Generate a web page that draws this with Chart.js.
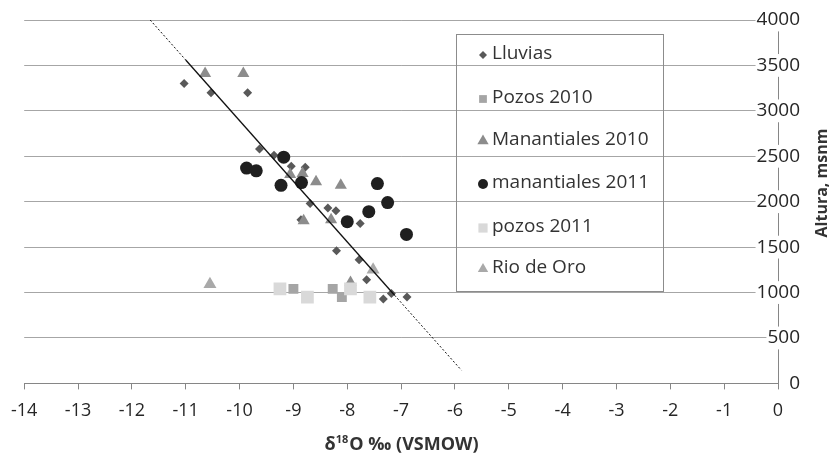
<!DOCTYPE html>
<html>
<head>
<meta charset="utf-8">
<script src="https://cdn.jsdelivr.net/npm/chart.js@4.4.1/dist/chart.umd.min.js"></script>
<style>
  html, body { margin: 0; padding: 0; background: #fff; }
</style>
</head>
<body>
<canvas id="myChart" width="833" height="459"></canvas>
<script>
// values (x = d18O permil, y = altura msnm)
const lluviasX = [-11.03, -10.53, -9.85, -9.63, -9.36, -9.04, -8.78, -8.69, -8.36, -8.21, -8.86, -7.76, -8.20, -7.78, -7.64, -7.33, -7.18, -6.89];
const lluviasY = [3300, 3200, 3200, 2580, 2510, 2390, 2380, 1980, 1930, 1900, 1800, 1760, 1460, 1360, 1140, 930, 990, 950];

const pozos2010X = [-9.0, -8.27, -8.10];
const pozos2010Y = [1040, 1040, 950];

const manant2010X = [-10.64, -9.93, -9.06, -8.83, -8.58, -8.12, -8.81, -8.30, -7.94];
const manant2010Y = [3410, 3410, 2300, 2310, 2220, 2180, 1790, 1800, 1110];

const manant2011X = [-9.87, -9.69, -9.18, -9.23, -8.85, -7.44, -7.25, -7.60, -8.0, -6.90];
const manant2011Y = [2370, 2340, 2490, 2180, 2210, 2200, 1990, 1890, 1780, 1640];

const pozos2011X = [-9.25, -8.74, -7.94, -7.58];
const pozos2011Y = [1040, 950, 1040, 950];

const rioX = [-10.55, -7.52];
const rioY = [1090, 1250];

// trend line ends (dotted - solid - dotted)
const trendX = [-11.66, -11.0, -7.12, -5.88];
const trendY = [4000, 3560, 970, 145];

const xTicks = [-14, -13, -12, -11, -10, -9, -8, -7, -6, -5, -4, -3, -2, -1, 0];
const yTicks = [0, 500, 1000, 1500, 2000, 2500, 3000, 3500, 4000];

const seriesNames = ['Lluvias', 'Pozos 2010', 'Manantiales 2010', 'manantiales 2011', 'pozos 2011', 'Rio de Oro'];

function pts(xs, ys) {
  return xs.map((x, i) => ({ x: x, y: ys[i] }));
}

function series(label, xs, ys, style, radius, color, order) {
  return {
    label: label,
    data: pts(xs, ys),
    pointStyle: style,
    pointRadius: radius,
    pointHoverRadius: radius,
    backgroundColor: color,
    borderColor: color,
    pointBorderWidth: 0,
    order: order
  };
}

const datasets = [
  series(seriesNames[0], lluviasX, lluviasY, 'rectRot', 4.5, '#595959', 6),
  series(seriesNames[1], pozos2010X, pozos2010Y, 'rect', 7, '#a5a5a5', 5),
  series(seriesNames[2], manant2010X, manant2010Y, 'triangle', 7, '#8c8c8c', 4),
  series(seriesNames[3], manant2011X, manant2011Y, 'circle', 6.5, '#1f1f1f', 3),
  series(seriesNames[4], pozos2011X, pozos2011Y, 'rect', 9, '#d9d9d9', 2),
  series(seriesNames[5], rioX, rioY, 'triangle', 7.5, '#a9a9a9', 1),
  {
    label: 'trend',
    data: pts(trendX, trendY),
    showLine: true,
    pointRadius: 0,
    borderColor: '#111',
    borderWidth: 1.3,
    segment: {
      borderDash: c => c.p0DataIndex === 1 ? [] : [2, 2],
      borderWidth: c => c.p0DataIndex === 1 ? 1.3 : 1
    },
    order: 0
  }
];

const legendSizes = [4, 5.5, 6.5, 5, 6.5, 6];

const extras = {
  id: 'extras',
  afterDraw(chart) {
    const ctx = chart.ctx;
    const area = chart.chartArea;
    ctx.save();

    // legend
    ctx.strokeStyle = '#8c8c8c';
    ctx.lineWidth = 1;
    ctx.strokeRect(456.5, 34.5, 207, 257);
    ctx.font = '19px "Open Sans"';
    ctx.textBaseline = 'middle';
    ctx.textAlign = 'left';
    const rows = [54, 98, 140, 183, 227, 268];
    for (let i = 0; i < seriesNames.length; i++) {
      const ds = chart.data.datasets[i];
      ctx.fillStyle = ds.backgroundColor;
      Chart.helpers.drawPoint(ctx, {
        pointStyle: ds.pointStyle, radius: legendSizes[i], rotation: 0, borderWidth: 0
      }, 483, rows[i] + 1);
      ctx.fillStyle = '#333';
      ctx.fillText(seriesNames[i], 492, rows[i]);
    }

    // x title with superscript
    ctx.fillStyle = '#333';
    ctx.textBaseline = 'alphabetic';
    const big = 'bold 18px "Open Sans"';
    const small = 'bold 11px "Open Sans"';
    const p1 = 'δ', p2 = '18', p3 = 'O ‰ (VSMOW)';
    ctx.font = big; const w1 = ctx.measureText(p1).width, w3 = ctx.measureText(p3).width;
    ctx.font = small; const w2 = ctx.measureText(p2).width;
    let x = (area.left + area.right) / 2 - (w1 + w2 + w3) / 2;
    const base = 450;
    ctx.font = big; ctx.fillText(p1, x, base); x += w1;
    ctx.font = small; ctx.fillText(p2, x, base - 7); x += w2 + 1;
    ctx.font = big; ctx.fillText(p3, x, base);

    // y title, rotated
    ctx.translate(822, 183);
    ctx.rotate(-Math.PI / 2);
    ctx.textAlign = 'center';
    ctx.textBaseline = 'middle';
    ctx.font = 'bold 16px "Open Sans"';
    ctx.fillText('Altura, msnm', 0, 0);
    ctx.restore();
  }
};

const config = {
  type: 'scatter',
  data: { datasets: datasets },
  options: {
    responsive: false,
    animation: false,
    layout: { padding: { left: 22, right: 11, top: 20, bottom: 26 } },
    plugins: { legend: { display: false }, tooltip: { enabled: false } },
    scales: {
      x: {
        type: 'linear',
        position: 'bottom',
        min: -14,
        max: 0,
        afterBuildTicks: s => { s.ticks = xTicks.map(v => ({ value: v })); },
        ticks: {
          callback: v => String(v),
          font: { family: 'Open Sans', size: 18 },
          color: '#262626',
          padding: 11,
          maxRotation: 0,
          autoSkip: false
        },
        grid: { drawOnChartArea: false, drawTicks: true, tickLength: 6, color: '#868686' },
        border: { display: true, color: '#868686' }
      },
      y: {
        type: 'linear',
        position: 'right',
        min: 0,
        max: 4000,
        afterBuildTicks: s => { s.ticks = yTicks.map(v => ({ value: v })); },
        // mirrored labels sit inside the plot, so no extra top/bottom room
        afterFit: s => { s.paddingTop = 0; s.paddingBottom = 0; },
        ticks: {
          callback: v => String(v),
          mirror: true,
          padding: 22,
          font: { family: 'Open Sans', size: 19 },
          color: '#262626',
          showLabelBackdrop: true,
          backdropColor: '#ffffff',
          backdropPadding: { left: 1, right: 1, top: 0, bottom: 0 }
        },
        grid: { drawTicks: false, color: '#a6a6a6' },
        border: { display: true, color: '#868686' }
      }
    }
  },
  plugins: [extras]
};

const myChart = new Chart(document.getElementById('myChart'), config);
</script>
</body>
</html>
